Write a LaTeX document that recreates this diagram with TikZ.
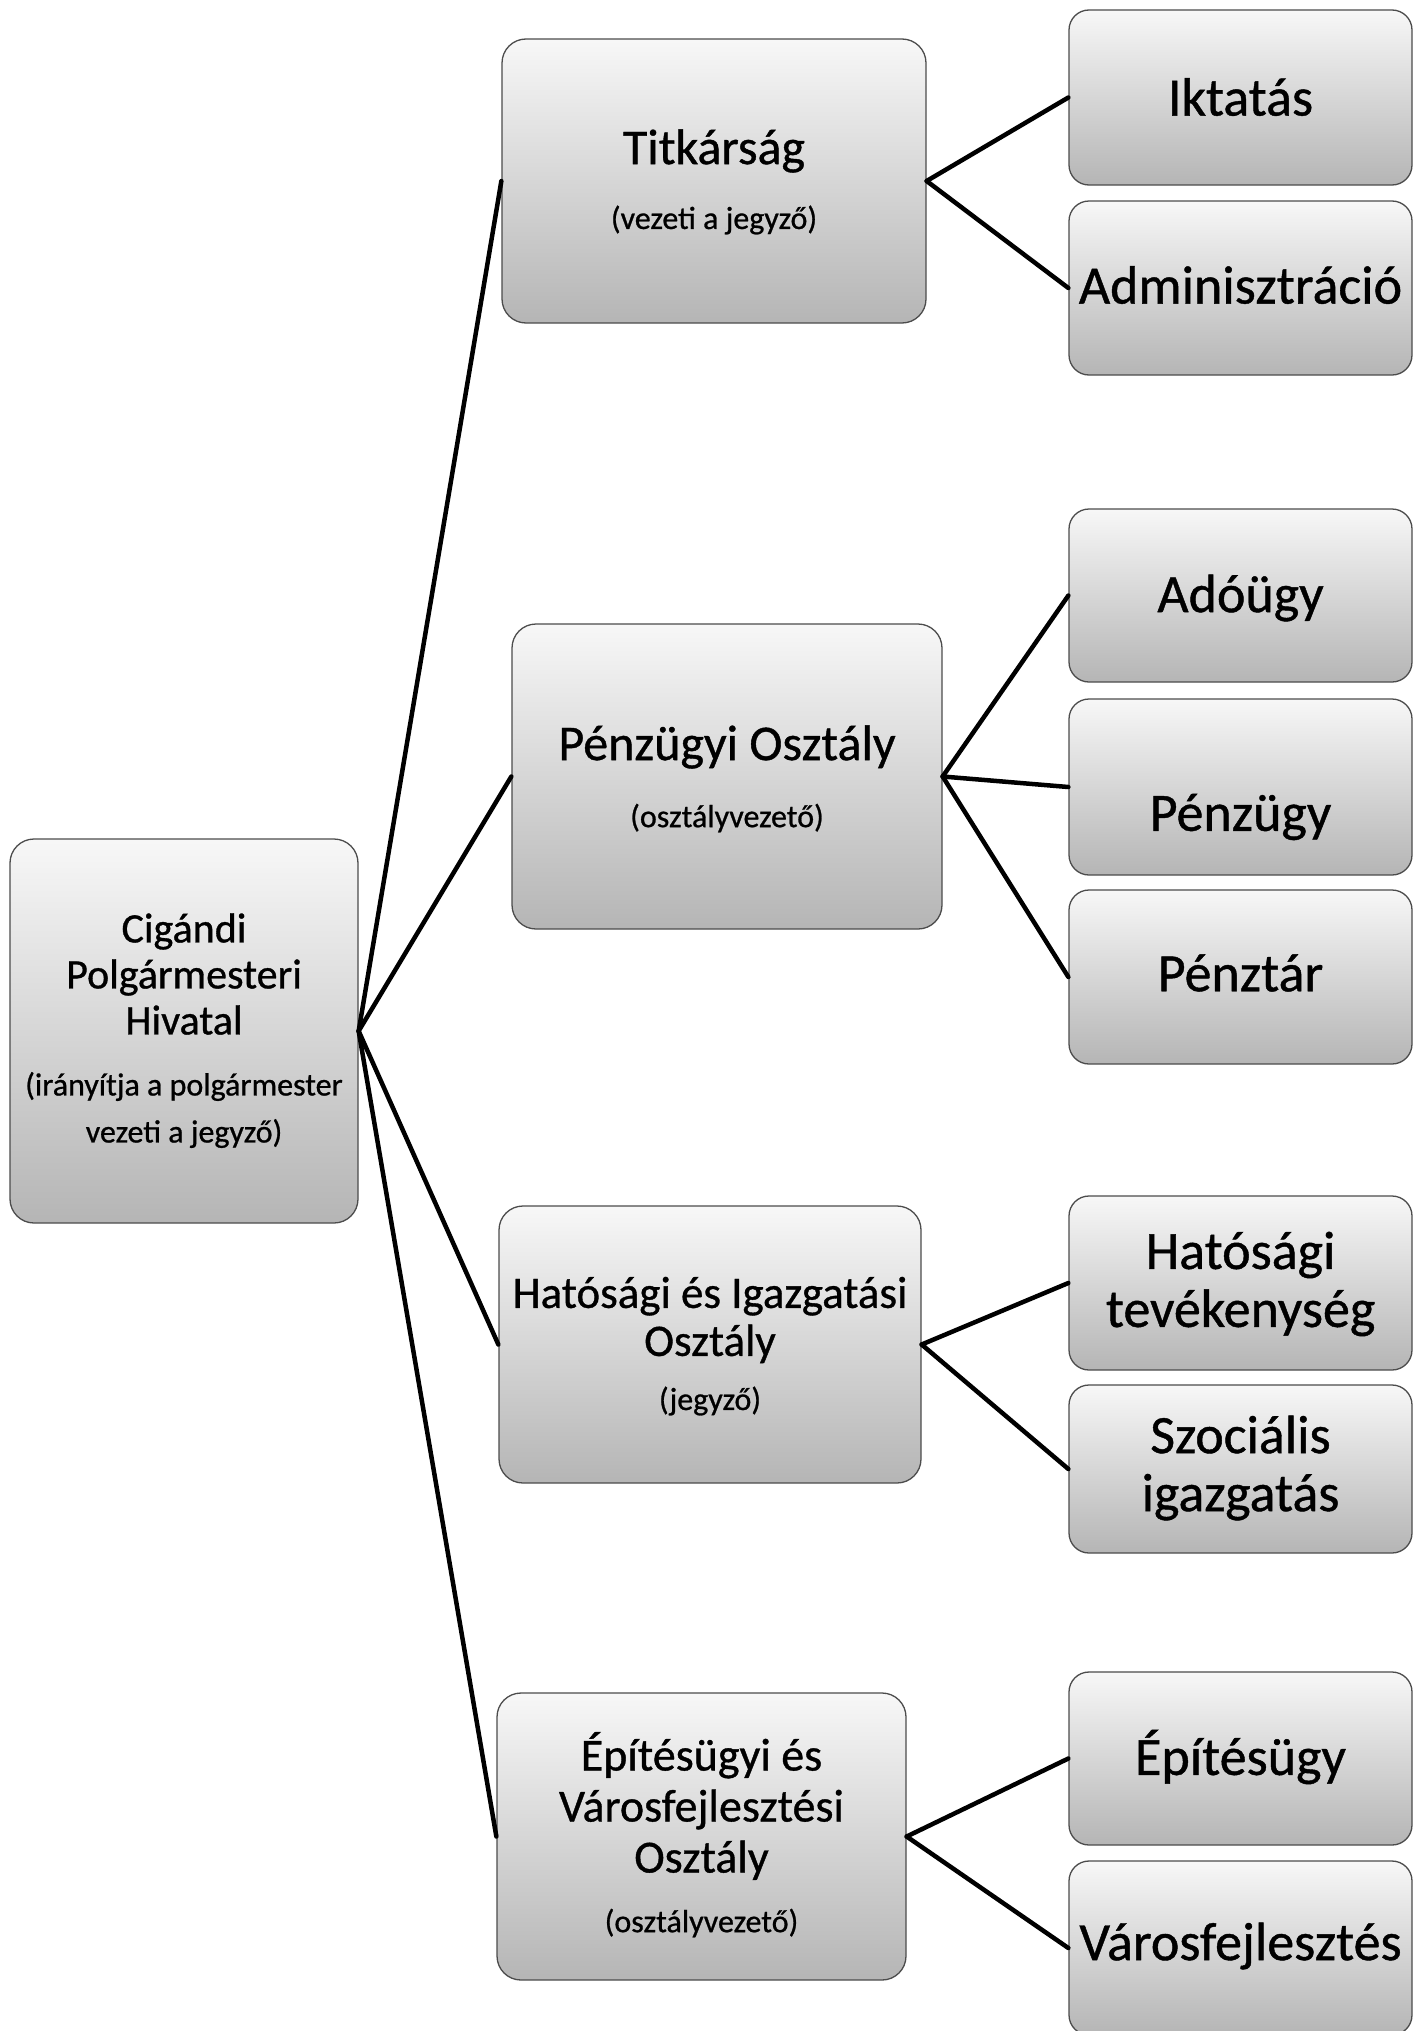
\documentclass[tikz,border=0pt]{standalone}
\usepackage{fontspec}
\setmainfont{Carlito}[FakeBold=0.8]
\tikzset{
  box/.style={draw=gray!60!black, line width=1.3pt, rounded corners=24pt, top color=gray!6, bottom color=gray!58, inner sep=0pt},
  conn/.style={line width=4.5pt, black, line cap=round},
  txt/.style={align=center, inner sep=0pt, text=black},
  roottitle/.style={txt, font=\fontsize{42}{46}\selectfont},
  midtitle/.style={txt, font=\fontsize{50}{54}\selectfont},
  midtitleb/.style={txt, font=\fontsize{45}{48}\selectfont},
  subtxt/.style={txt, font=\fontsize{32}{47}\selectfont},
  righttxt/.style={txt, font=\fontsize{54}{58}\selectfont},
}
\begin{document}
\begin{tikzpicture}[x=1pt, y=-1pt]
\useasboundingbox (0,0) rectangle (1413,2031);
% boxes
\node[box, minimum width=348pt, minimum height=384pt] (root) at (184,1031) {};
\node[box, minimum width=424pt, minimum height=284pt] (tit) at (714,181) {};
\node[box, minimum width=430pt, minimum height=305pt] (pen) at (727,776.5) {};
\node[box, minimum width=422pt, minimum height=277pt] (hat) at (710,1344.5) {};
\node[box, minimum width=409pt, minimum height=287pt] (epi) at (701.5,1836.5) {};
\node[box, rounded corners=20pt, minimum width=343pt, minimum height=175pt] (ikt) at (1240.5,97.5) {};
\node[box, rounded corners=20pt, minimum width=343pt, minimum height=174pt] (adm) at (1240.5,288) {};
\node[box, rounded corners=20pt, minimum width=343pt, minimum height=173pt] (ado) at (1240.5,595.5) {};
\node[box, rounded corners=20pt, minimum width=343pt, minimum height=176pt] (pnz) at (1240.5,787) {};
\node[box, rounded corners=20pt, minimum width=343pt, minimum height=174pt] (ptr) at (1240.5,977) {};
\node[box, rounded corners=20pt, minimum width=343pt, minimum height=174pt] (hte) at (1240.5,1283) {};
\node[box, rounded corners=20pt, minimum width=343pt, minimum height=168pt] (szo) at (1240.5,1469) {};
\node[box, rounded corners=20pt, minimum width=343pt, minimum height=173pt] (epu) at (1240.5,1758.5) {};
\node[box, rounded corners=20pt, minimum width=343pt, minimum height=174pt] (var) at (1240.5,1948) {};
% texts
\node[roottitle] (roott) at (184,974) {Cigándi\\Polgármesteri\\Hivatal};
\node[subtxt] (roots) at (184,1110) {(irányítja a polgármester\\vezeti a jegyző)};
\node[midtitle] (titt) at (714,151) {Titkárság};
\node[subtxt] (tits) at (714,220) {(vezeti a jegyző)};
\node[midtitle] (pent) at (727,747) {Pénzügyi Osztály};
\node[subtxt] (pens) at (727,818) {(osztályvezető)};
\node[midtitleb] (hatt) at (710,1320) {Hatósági és Igazgatási\\Osztály};
\node[subtxt] (hats) at (710,1401) {(jegyző)};
\node[midtitleb, font=\fontsize{46}{51}\selectfont] (epit) at (701.5,1806) {Építésügyi és\\Városfejlesztési\\Osztály};
\node[subtxt] (epis) at (701.5,1923) {(osztályvezető)};
\node[righttxt] (iktt) at (1240.5,97) {Iktatás};
\node[righttxt] (admt) at (1240.5,285) {Adminisztráció};
\node[righttxt] (adot) at (1240.5,598) {Adóügy};
\node[righttxt] (pnzt) at (1240.5,817) {Pénzügy};
\node[righttxt] (ptrt) at (1240.5,973) {Pénztár};
\node[righttxt] (htet) at (1240.5,1284) {Hatósági\\tevékenység};
\node[righttxt] (szot) at (1240.5,1468) {Szociális\\igazgatás};
\node[righttxt] (eput) at (1240.5,1757) {Építésügy};
\node[righttxt] (vart) at (1240.5,1946) {Városfejlesztés};
% connectors
\draw[conn] (root.east) -- (tit.west);
\draw[conn] (root.east) -- (pen.west);
\draw[conn] (root.east) -- (hat.west);
\draw[conn] (root.east) -- (epi.west);
\draw[conn] (tit.east) -- (ikt.west);
\draw[conn] (tit.east) -- (adm.west);
\draw[conn] (pen.east) -- (ado.west);
\draw[conn] (pen.east) -- (pnz.west);
\draw[conn] (pen.east) -- (ptr.west);
\draw[conn] (hat.east) -- (hte.west);
\draw[conn] (hat.east) -- (szo.west);
\draw[conn] (epi.east) -- (epu.west);
\draw[conn] (epi.east) -- (var.west);
\end{tikzpicture}
\end{document}
